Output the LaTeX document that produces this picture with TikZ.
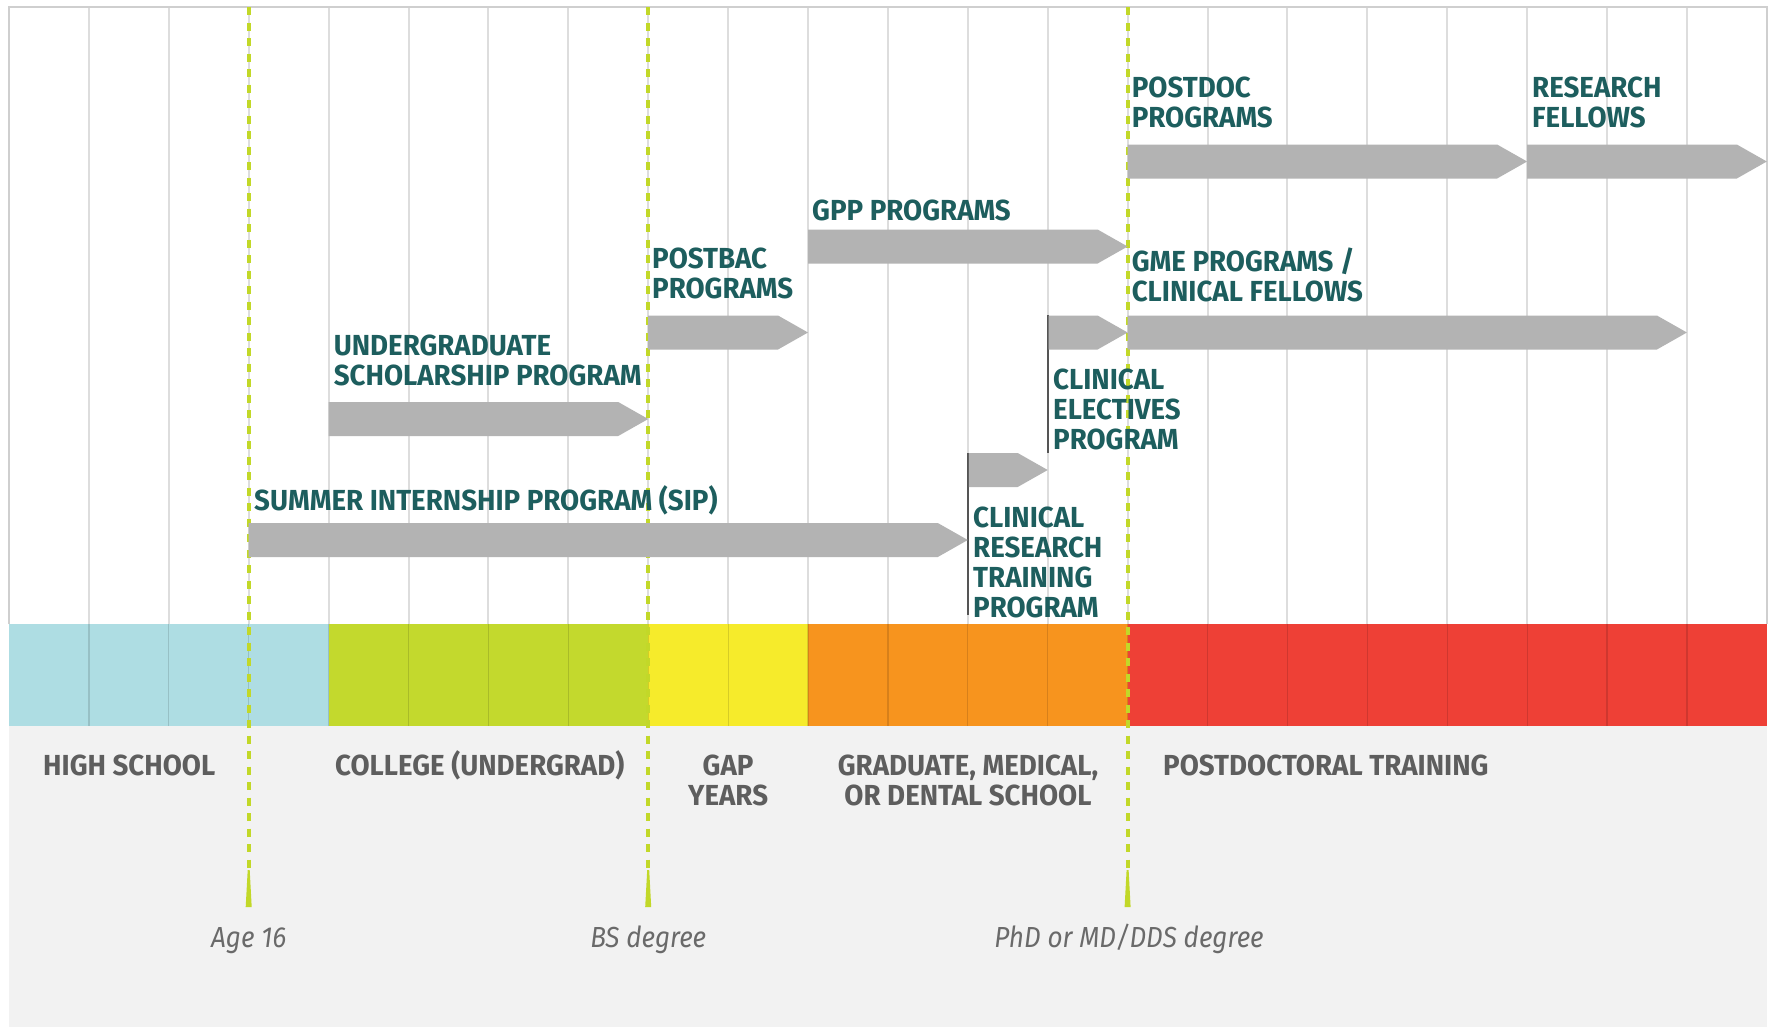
\documentclass[tikz,border=0pt]{standalone}
\usepackage{fontspec}
\setmainfont{Fira Sans}[FakeStretch=0.955]
\newfontfamily\degfont{Fira Sans}[FakeStretch=0.9]
\definecolor{teal1}{HTML}{1D5E5E}
\definecolor{bandtext}{HTML}{5E5E5E}
\definecolor{itgray}{HTML}{6A6A6A}
\definecolor{arrowgray}{HTML}{B3B3B3}
\definecolor{gridgray}{HTML}{DDDDDD}
\definecolor{framegray}{HTML}{CFCFCF}
\definecolor{bottomgray}{HTML}{F2F2F2}
\definecolor{dashgreen}{HTML}{C2D828}
\definecolor{cblue}{HTML}{AEDDE3}
\definecolor{clime}{HTML}{C3D92D}
\definecolor{cyellow}{HTML}{F6EB2B}
\definecolor{corange}{HTML}{F7941E}
\definecolor{cred}{HTML}{EE4036}
\definecolor{markgray}{HTML}{555555}
\newcommand\progarrow[3]{%
  \fill[arrowgray] (#1,{#3-17}) -- ({#2-30},{#3-17}) -- (#2,#3) -- ({#2-30},{#3+17}) -- (#1,{#3+17}) -- cycle;}
\tikzset{
  prog/.style={text=teal1, font=\bfseries\fontsize{29}{30}\selectfont, inner sep=0pt, align=left},
  stage/.style={text=bandtext, font=\bfseries\fontsize{29}{30}\selectfont, inner sep=0pt},
  degree/.style={text=itgray, font=\degfont\itshape\fontsize{29}{30}\selectfont, inner sep=0pt},
  gridline/.style={gridgray, line width=2pt},
  bandline/.style={black, opacity=0.13, line width=1.2pt},
  milestone/.style={dashgreen, line width=4pt, dash pattern=on 8pt off 7.5pt},
  marker/.style={markgray, line width=2pt}
}
\begin{document}
\begin{tikzpicture}[x=1pt, y=-1pt]
\useasboundingbox (0,0) rectangle (1774,1029);
\fill[white] (0,0) rectangle (1774,1029);
% bottom gray area
\fill[bottomgray] (9,726) rectangle (1767,1027);
% grid in upper area
\foreach \i in {1,...,21} \draw[gridline] ({9+79.9*\i},7) -- ({9+79.9*\i},624);
\draw[framegray, line width=2pt] (9,624) -- (9,7) -- (1767,7) -- (1767,624);
% colour band
\fill[cblue]   (9,624) rectangle (328.6,726);
\fill[clime]   (328.6,624) rectangle (648.2,726);
\fill[cyellow] (648.2,624) rectangle (808,726);
\fill[corange] (808,624) rectangle (1127.6,726);
\fill[cred]    (1127.6,624) rectangle (1767,726);
\foreach \i in {1,...,21} \draw[bandline] ({9+79.9*\i},624) -- ({9+79.9*\i},726);
% milestone lines
\foreach \xx in {248.7,648.2,1127.6} {
  \draw[milestone] (\xx,7) -- (\xx,870);
  \fill[dashgreen] ({\xx-1},870) -- ({\xx+1},870) -- ({\xx+3},907) -- ({\xx-3},907) -- cycle;
}
% marker lines of clinical programs
\draw[marker] (1047.7,315) -- (1047.7,453);
\draw[marker] (967.8,453) -- (967.8,615);
% programme arrows
\progarrow{248.7}{967.8}{540}
\progarrow{328.6}{648.2}{419}
\progarrow{648.2}{808}{332.5}
\progarrow{808}{1127.6}{246.5}
\progarrow{1048.7}{1127.6}{332.5}
\progarrow{968.8}{1047.7}{470}
\progarrow{1127.6}{1686.9}{332.5}
\progarrow{1127.6}{1527.1}{161.5}
\progarrow{1527.1}{1766.8}{161.5}
% programme labels
\node[prog, anchor=base west] (sip) at (254,510) {SUMMER INTERNSHIP PROGRAM (SIP)};
\node[prog, anchor=north west] (ugs) at (333.6,335) {UNDERGRADUATE\\SCHOLARSHIP PROGRAM};
\node[prog, anchor=north west] (pbac) at (652,248) {POSTBAC\\PROGRAMS};
\node[prog, anchor=base west] (gpp) at (812,220) {GPP PROGRAMS};
\node[prog, anchor=north west] (gme) at (1131.6,248) {GME PROGRAMS /\\CLINICAL FELLOWS};
\node[prog, anchor=north west] (pdoc) at (1131.6,77) {POSTDOC\\PROGRAMS};
\node[prog, anchor=north west] (rf) at (1532,77) {RESEARCH\\FELLOWS};
\node[prog, anchor=north west] (ce) at (1053,369) {CLINICAL\\ELECTIVES\\PROGRAM};
\node[prog, anchor=north west] (crt) at (973,507) {CLINICAL\\RESEARCH\\TRAINING\\PROGRAM};
% stage labels
\node[stage, anchor=base west] (hs) at (43,775) {HIGH SCHOOL};
\node[stage, anchor=base west] (col) at (335,775) {COLLEGE (UNDERGRAD)};
\node[stage, anchor=north, align=center] (gap) at (728.1,755) {GAP\\YEARS};
\node[stage, anchor=north, align=center] (grad) at (968,755) {GRADUATE, MEDICAL,\\OR DENTAL SCHOOL};
\node[stage, anchor=base west] (post) at (1163,775) {POSTDOCTORAL TRAINING};
% degree labels
\node[degree, anchor=base] (age) at (248.7,947) {Age 16};
\node[degree, anchor=base] (bs) at (648.2,947) {BS degree};
\node[degree, anchor=base] (phd) at (1129,947) {PhD or MD/DDS degree};
\end{tikzpicture}
\end{document}
